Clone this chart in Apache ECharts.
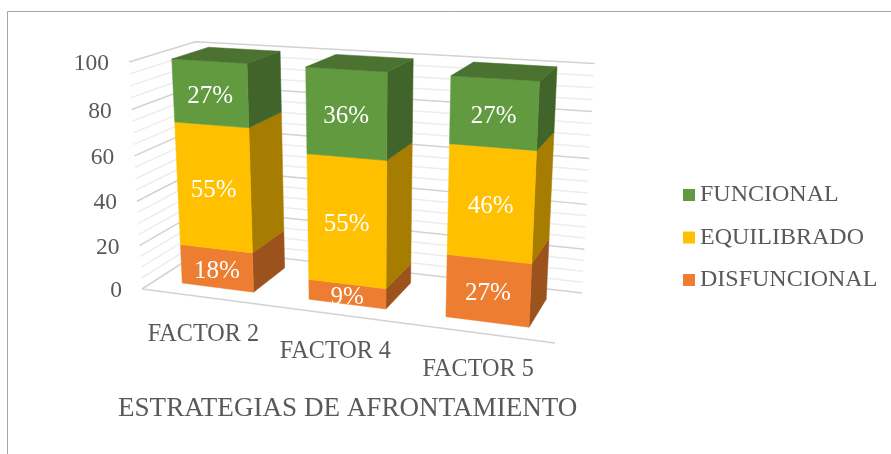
<!DOCTYPE html>
<html>
<head>
<meta charset="utf-8">
<style>
    html, body { margin: 0; padding: 0; background: #fff; }
    #chart { width: 891px; height: 454px; }
</style>
<script src="https://cdn.jsdelivr.net/npm/echarts@6/dist/echarts.min.js"></script>
</head>
<body>
<div id="chart"></div>
<script>
const categories = ['FACTOR 2', 'FACTOR 4', 'FACTOR 5'];
const disfuncional = [18, 9, 27];
const equilibrado = [55, 55, 46];
const funcional = [27, 36, 27];
const majorTicks = [0, 20, 40, 60, 80, 100];
const minorTicks = [5, 10, 15, 25, 30, 35, 45, 50, 55, 65, 70, 75, 85, 90, 95];
const legendNames = ['FUNCIONAL', 'EQUILIBRADO', 'DISFUNCIONAL'];

const serif = '"Liberation Serif", "Times New Roman", serif';
const textColor = '#595959';
const barShare = 1 / 1.75; // gap width 75%

// perspective of the 3D box, x / y / z go 0..1 across the plot box
function project(x, y, z) {
    const w = 1 - 0.1115 * x - 0.055 * y + 0.1006 * z;
    return [
        (142 + 351.1 * x - 20.1 * y + 82.5 * z) / w,
        (289 + 15.76 * x - 230.4 * y - 14.95 * z) / w
    ];
}

// read a data point through the axes, as 0..1 in the hidden grid
function unit(api, params, cat, value) {
    const p = api.coord([cat, value]);
    const g = params.coordSys;
    return [(p[0] - g.x) / g.width, (g.y + g.height - p[1]) / g.height];
}

function face(points, color) {
    return {
        type: 'polygon',
        shape: { points: points },
        style: { fill: color, stroke: color, lineWidth: 0.5 }
    };
}

function wallLine(isMajor, color, width) {
    return function (params, api) {
        const value = api.value(1);
        const y = unit(api, params, 0, value)[1];
        const corners = [project(0, y, 0), project(0, y, 1), project(1, y, 1)];
        const children = [{
            type: 'polyline',
            shape: { points: corners },
            style: { stroke: color, lineWidth: width, fill: null }
        }];
        if (isMajor) {
            children.push({
                type: 'text',
                style: {
                    x: corners[0][0] - 20,
                    y: corners[0][1] + 2,
                    text: String(value),
                    fill: textColor,
                    font: '23.5px ' + serif,
                    align: 'right',
                    verticalAlign: 'middle'
                }
            });
            if (value === 0) {
                const end = project(1, 0, 0);
                children.push({
                    type: 'line',
                    shape: { x1: corners[0][0], y1: corners[0][1], x2: end[0], y2: end[1] },
                    style: { stroke: color, lineWidth: width }
                });
            }
        }
        return { type: 'group', children: children };
    };
}

function renderCategoryLabel(params, api) {
    const cat = api.value(0);
    const x = unit(api, params, cat, 0)[0];
    const p = project(x, 0, 0);
    return {
        type: 'text',
        style: {
            x: p[0] - 1,
            y: p[1] + 37,
            text: categories[cat],
            fill: textColor,
            font: '24.2px ' + serif,
            align: 'center',
            verticalAlign: 'middle'
        }
    };
}

function barSeries(name, values, below, colors, isTop) {
    return {
        name: name,
        type: 'custom',
        coordinateSystem: 'cartesian2d',
        clip: false,
        silent: true,
        z: 5,
        itemStyle: { color: colors.front },
        data: values.map(function (v, i) { return [i, v]; }),
        renderItem: function (params, api) {
            const i = api.value(0);
            const base = below(i);
            const a = unit(api, params, i, base);
            const b = unit(api, params, i, base + api.value(1));
            const half = api.size([1, 0])[0] / params.coordSys.width * barShare / 2;
            const x0 = a[0] - half, x1 = a[0] + half;
            const z0 = 0.5 - barShare / 2, z1 = 0.5 + barShare / 2;
            const children = [
                face([project(x1, a[1], z0), project(x1, a[1], z1), project(x1, b[1], z1), project(x1, b[1], z0)], colors.side),
                face([project(x0, a[1], z0), project(x1, a[1], z0), project(x1, b[1], z0), project(x0, b[1], z0)], colors.front)
            ];
            if (isTop) {
                children.push(face([project(x0, b[1], z0), project(x1, b[1], z0), project(x1, b[1], z1), project(x0, b[1], z1)], colors.top));
            }
            const c = project(a[0], (a[1] + b[1]) / 2, z0);
            children.push({
                type: 'text',
                style: {
                    x: c[0],
                    y: c[1] + 3,
                    text: api.value(1) + '%',
                    fill: '#ffffff',
                    font: '25px ' + serif,
                    align: 'center',
                    verticalAlign: 'middle'
                }
            });
            return { type: 'group', children: children };
        }
    };
}

const chart = echarts.init(document.getElementById('chart'));

chart.setOption({
    animation: false,
    backgroundColor: '#ffffff',
    title: {
        text: 'ESTRATEGIAS DE AFRONTAMIENTO',
        left: 118,
        top: 395,
        padding: 0,
        textStyle: { fontFamily: serif, fontSize: 27.1, fontWeight: 'normal', color: textColor }
    },
    legend: {
        data: legendNames,
        orient: 'vertical',
        left: 683,
        top: 183,
        padding: 0,
        itemWidth: 12,
        itemHeight: 12,
        itemGap: 18.5,
        icon: 'rect',
        textStyle: { fontFamily: serif, fontSize: 24, color: textColor, padding: [0, 0, 0, 0] }
    },
    // the grid is hidden, it only supplies the scales for the projection
    grid: { left: 100, top: 50, width: 500, height: 300 },
    xAxis: { type: 'category', data: categories, show: false },
    yAxis: { type: 'value', min: 0, max: 100, interval: 20, show: false },
    graphic: [
        { type: 'line', shape: { x1: 7.5, y1: 11.5, x2: 891, y2: 11.5 }, style: { stroke: '#a6a6a6', lineWidth: 1 } },
        { type: 'line', shape: { x1: 7.5, y1: 11.5, x2: 7.5, y2: 454 }, style: { stroke: '#a6a6a6', lineWidth: 1 } }
    ],
    series: [
        {
            type: 'custom', silent: true, clip: false, z: 1,
            data: minorTicks.map(function (v) { return [0, v]; }),
            renderItem: wallLine(false, '#ededed', 1.5)
        },
        {
            type: 'custom', silent: true, clip: false, z: 2,
            data: majorTicks.map(function (v) { return [0, v]; }),
            renderItem: wallLine(true, '#d2d2d2', 1.5)
        },
        {
            type: 'custom', silent: true, clip: false, z: 3,
            data: categories.map(function (c, i) { return [i, 0]; }),
            renderItem: renderCategoryLabel
        },
        barSeries('DISFUNCIONAL', disfuncional, function () { return 0; },
            { front: '#ed7d31', side: '#9c521d' }, false),
        barSeries('EQUILIBRADO', equilibrado, function (i) { return disfuncional[i]; },
            { front: '#ffc000', side: '#a67d00' }, false),
        barSeries('FUNCIONAL', funcional, function (i) { return disfuncional[i] + equilibrado[i]; },
            { front: '#629a40', side: '#406429', top: '#4b7230' }, true)
    ]
});
</script>
</body>
</html>
